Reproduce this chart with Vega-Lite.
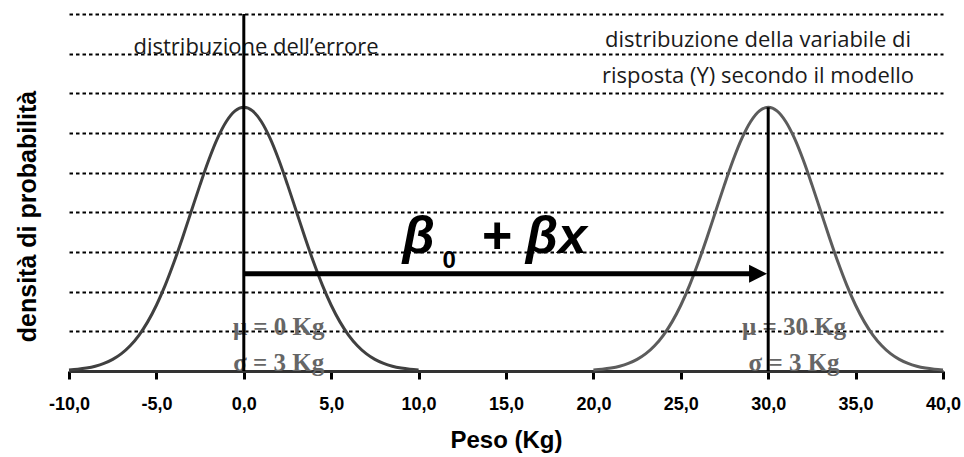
{
  "$schema": "https://vega.github.io/schema/vega-lite/v6.json",
  "width": 874,
  "height": 357,
  "autosize": "none",
  "padding": {"left": 69, "top": 14, "right": 21, "bottom": 86},
  "background": "white",
  "config": {"view": {"stroke": null}, "font": "Liberation Sans"},
  "datasets": {
    "curves": [
      {"curve": "error", "x": -10, "y": 0.00051}, {"curve": "error", "x": -9.5, "y": 0.00088}, {"curve": "error", "x": -9, "y": 0.00148}, {"curve": "error", "x": -8.5, "y": 0.0024}, {"curve": "error", "x": -8, "y": 0.0038}, {"curve": "error", "x": -7.5, "y": 0.00584}, {"curve": "error", "x": -7, "y": 0.00874}, {"curve": "error", "x": -6.5, "y": 0.01272}, {"curve": "error", "x": -6, "y": 0.018}, {"curve": "error", "x": -5.5, "y": 0.02477}, {"curve": "error", "x": -5, "y": 0.03316}, {"curve": "error", "x": -4.5, "y": 0.04317}, {"curve": "error", "x": -4, "y": 0.05467}, {"curve": "error", "x": -3.5, "y": 0.06733}, {"curve": "error", "x": -3, "y": 0.08066}, {"curve": "error", "x": -2.5, "y": 0.09397}, {"curve": "error", "x": -2, "y": 0.10648}, {"curve": "error", "x": -1.5, "y": 0.11736}, {"curve": "error", "x": -1, "y": 0.12579}, {"curve": "error", "x": -0.5, "y": 0.13115}, {"curve": "error", "x": 0, "y": 0.13298},
      {"curve": "error", "x": 0.5, "y": 0.13115}, {"curve": "error", "x": 1, "y": 0.12579}, {"curve": "error", "x": 1.5, "y": 0.11736}, {"curve": "error", "x": 2, "y": 0.10648}, {"curve": "error", "x": 2.5, "y": 0.09397}, {"curve": "error", "x": 3, "y": 0.08066}, {"curve": "error", "x": 3.5, "y": 0.06733}, {"curve": "error", "x": 4, "y": 0.05467}, {"curve": "error", "x": 4.5, "y": 0.04317}, {"curve": "error", "x": 5, "y": 0.03316}, {"curve": "error", "x": 5.5, "y": 0.02477}, {"curve": "error", "x": 6, "y": 0.018}, {"curve": "error", "x": 6.5, "y": 0.01272}, {"curve": "error", "x": 7, "y": 0.00874}, {"curve": "error", "x": 7.5, "y": 0.00584}, {"curve": "error", "x": 8, "y": 0.0038}, {"curve": "error", "x": 8.5, "y": 0.0024}, {"curve": "error", "x": 9, "y": 0.00148}, {"curve": "error", "x": 9.5, "y": 0.00088}, {"curve": "error", "x": 10, "y": 0.00051},
      {"curve": "model", "x": 20, "y": 0.00051}, {"curve": "model", "x": 20.5, "y": 0.00088}, {"curve": "model", "x": 21, "y": 0.00148}, {"curve": "model", "x": 21.5, "y": 0.0024}, {"curve": "model", "x": 22, "y": 0.0038}, {"curve": "model", "x": 22.5, "y": 0.00584}, {"curve": "model", "x": 23, "y": 0.00874}, {"curve": "model", "x": 23.5, "y": 0.01272}, {"curve": "model", "x": 24, "y": 0.018}, {"curve": "model", "x": 24.5, "y": 0.02477}, {"curve": "model", "x": 25, "y": 0.03316}, {"curve": "model", "x": 25.5, "y": 0.04317}, {"curve": "model", "x": 26, "y": 0.05467}, {"curve": "model", "x": 26.5, "y": 0.06733}, {"curve": "model", "x": 27, "y": 0.08066}, {"curve": "model", "x": 27.5, "y": 0.09397}, {"curve": "model", "x": 28, "y": 0.10648}, {"curve": "model", "x": 28.5, "y": 0.11736}, {"curve": "model", "x": 29, "y": 0.12579}, {"curve": "model", "x": 29.5, "y": 0.13115}, {"curve": "model", "x": 30, "y": 0.13298},
      {"curve": "model", "x": 30.5, "y": 0.13115}, {"curve": "model", "x": 31, "y": 0.12579}, {"curve": "model", "x": 31.5, "y": 0.11736}, {"curve": "model", "x": 32, "y": 0.10648}, {"curve": "model", "x": 32.5, "y": 0.09397}, {"curve": "model", "x": 33, "y": 0.08066}, {"curve": "model", "x": 33.5, "y": 0.06733}, {"curve": "model", "x": 34, "y": 0.05467}, {"curve": "model", "x": 34.5, "y": 0.04317}, {"curve": "model", "x": 35, "y": 0.03316}, {"curve": "model", "x": 35.5, "y": 0.02477}, {"curve": "model", "x": 36, "y": 0.018}, {"curve": "model", "x": 36.5, "y": 0.01272}, {"curve": "model", "x": 37, "y": 0.00874}, {"curve": "model", "x": 37.5, "y": 0.00584}, {"curve": "model", "x": 38, "y": 0.0038}, {"curve": "model", "x": 38.5, "y": 0.0024}, {"curve": "model", "x": 39, "y": 0.00148}, {"curve": "model", "x": 39.5, "y": 0.00088}, {"curve": "model", "x": 40, "y": 0.00051}
    ],
    "guides": [
      {"kind": "error", "x": 0, "y": 0, "y2": 0.18},
      {"kind": "model", "x": 30, "y": 0, "y2": 0.133}
    ],
    "shift": [{"x": 0, "x2": 29.4, "y": 0.049}],
    "head": [{"x": 29.42, "y": 0.049}],
    "notes": [
      {"x": 0.7, "y": 0.1598, "text": "distribuzione dell’errore"},
      {"x": 29.42, "y": 0.1634, "text": "distribuzione della variabile di"},
      {"x": 29.42, "y": 0.1452, "text": "risposta (Y) secondo il modello"}
    ],
    "params": [
      {"x": 2, "y": 0.018, "text": "μ = 0 Kg"},
      {"x": 2, "y": 0, "text": "σ = 3 Kg"},
      {"x": 31.48, "y": 0.018, "text": "μ = 30 Kg"},
      {"x": 31.48, "y": 0, "text": "σ = 3 Kg"}
    ],
    "formula": [
      {"part": "beta", "x": 10.0, "y": 0.0595, "text": "β"},
      {"part": "sub", "x": 11.75, "y": 0.0519, "text": "0"},
      {"part": "beta", "x": 16.6, "y": 0.0595, "text": "+ βx"}
    ]
  },
  "layer": [
    {
      "data": {"name": "curves"},
      "mark": {"type": "line", "strokeWidth": 3, "interpolate": "monotone"},
      "encoding": {
        "x": {
          "field": "x", "type": "quantitative",
          "scale": {"domain": [-10, 40], "nice": false, "zero": false},
          "axis": {
            "values": [-10, -5, 0, 5, 10, 15, 20, 25, 30, 35, 40],
            "labelExpr": "(datum.value < 0 ? '-' : '') + replace(format(abs(datum.value), '.1f'), '.', ',')",
            "labelFont": "Liberation Sans", "labelFontWeight": "bold", "labelFontSize": 18, "labelColor": "black",
            "labelPadding": 16, "labelFlush": false, "labelOverlap": false,
            "tickSize": 8, "tickWidth": 3, "tickColor": "black",
            "domainColor": "#333333", "domainWidth": 3,
            "grid": false,
            "title": "Peso (Kg)", "titleFont": "Liberation Sans", "titleFontSize": 24, "titleFontWeight": "bold", "titleColor": "black",
            "titleY": 76, "titleBaseline": "alphabetic"
          }
        },
        "y": {
          "field": "y", "type": "quantitative",
          "scale": {"domain": [0, 0.18], "nice": false},
          "axis": {
            "values": [0.02, 0.04, 0.06, 0.08, 0.1, 0.12, 0.14, 0.16, 0.18],
            "labels": false, "ticks": false, "domain": false,
            "grid": true, "gridColor": "black", "gridWidth": 2, "gridDash": [3.5, 3],
            "title": "densità di probabilità", "titleFont": "Liberation Sans", "titleFontSize": 25, "titleFontWeight": "bold", "titleColor": "black",
            "titleAngle": -90, "titleX": -42, "titleY": 202, "titleAlign": "center", "titleBaseline": "middle"
          }
        },
        "color": {"field": "curve", "type": "nominal", "scale": {"domain": ["error", "model"], "range": ["#404040", "#5c5c5c"]}, "legend": null}
      }
    },
    {
      "data": {"name": "notes"},
      "mark": {"type": "text", "font": "Open Sans", "fontSize": 22, "color": "#1a1a1a", "align": "center", "baseline": "alphabetic"},
      "encoding": {
        "x": {"field": "x", "type": "quantitative"},
        "y": {"field": "y", "type": "quantitative"},
        "text": {"field": "text"}
      }
    },
    {
      "data": {"name": "params"},
      "mark": {"type": "text", "font": "Liberation Serif", "fontSize": 25, "fontWeight": "bold", "color": "#666666", "align": "center", "baseline": "alphabetic"},
      "encoding": {
        "x": {"field": "x", "type": "quantitative"},
        "y": {"field": "y", "type": "quantitative"},
        "text": {"field": "text"}
      }
    },
    {
      "data": {"name": "formula"},
      "transform": [{"filter": "datum.part === 'beta'"}],
      "mark": {"type": "text", "font": "Liberation Sans", "fontSize": 52, "fontWeight": "bold", "fontStyle": "italic", "color": "black", "align": "center", "baseline": "alphabetic"},
      "encoding": {
        "x": {"field": "x", "type": "quantitative"},
        "y": {"field": "y", "type": "quantitative"},
        "text": {"field": "text"}
      }
    },
    {
      "data": {"name": "formula"},
      "transform": [{"filter": "datum.part === 'sub'"}],
      "mark": {"type": "text", "font": "Liberation Sans", "fontSize": 24, "fontWeight": "bold", "color": "black", "align": "center", "baseline": "alphabetic"},
      "encoding": {
        "x": {"field": "x", "type": "quantitative"},
        "y": {"field": "y", "type": "quantitative"},
        "text": {"field": "text"}
      }
    },
    {
      "data": {"name": "shift"},
      "mark": {"type": "rule", "strokeWidth": 5, "color": "black"},
      "encoding": {
        "x": {"field": "x", "type": "quantitative"},
        "x2": {"field": "x2"},
        "y": {"field": "y", "type": "quantitative"}
      }
    },
    {
      "data": {"name": "head"},
      "mark": {"type": "point", "shape": "M -1 -1 L 1 0 L -1 1 Z", "size": 324, "filled": true, "color": "black", "opacity": 1, "strokeWidth": 0},
      "encoding": {
        "x": {"field": "x", "type": "quantitative"},
        "y": {"field": "y", "type": "quantitative"}
      }
    },
    {
      "data": {"name": "guides"},
      "mark": {"type": "rule", "strokeWidth": 3, "color": "black"},
      "encoding": {
        "x": {"field": "x", "type": "quantitative"},
        "y": {"field": "y", "type": "quantitative"},
        "y2": {"field": "y2"}
      }
    }
  ]
}
